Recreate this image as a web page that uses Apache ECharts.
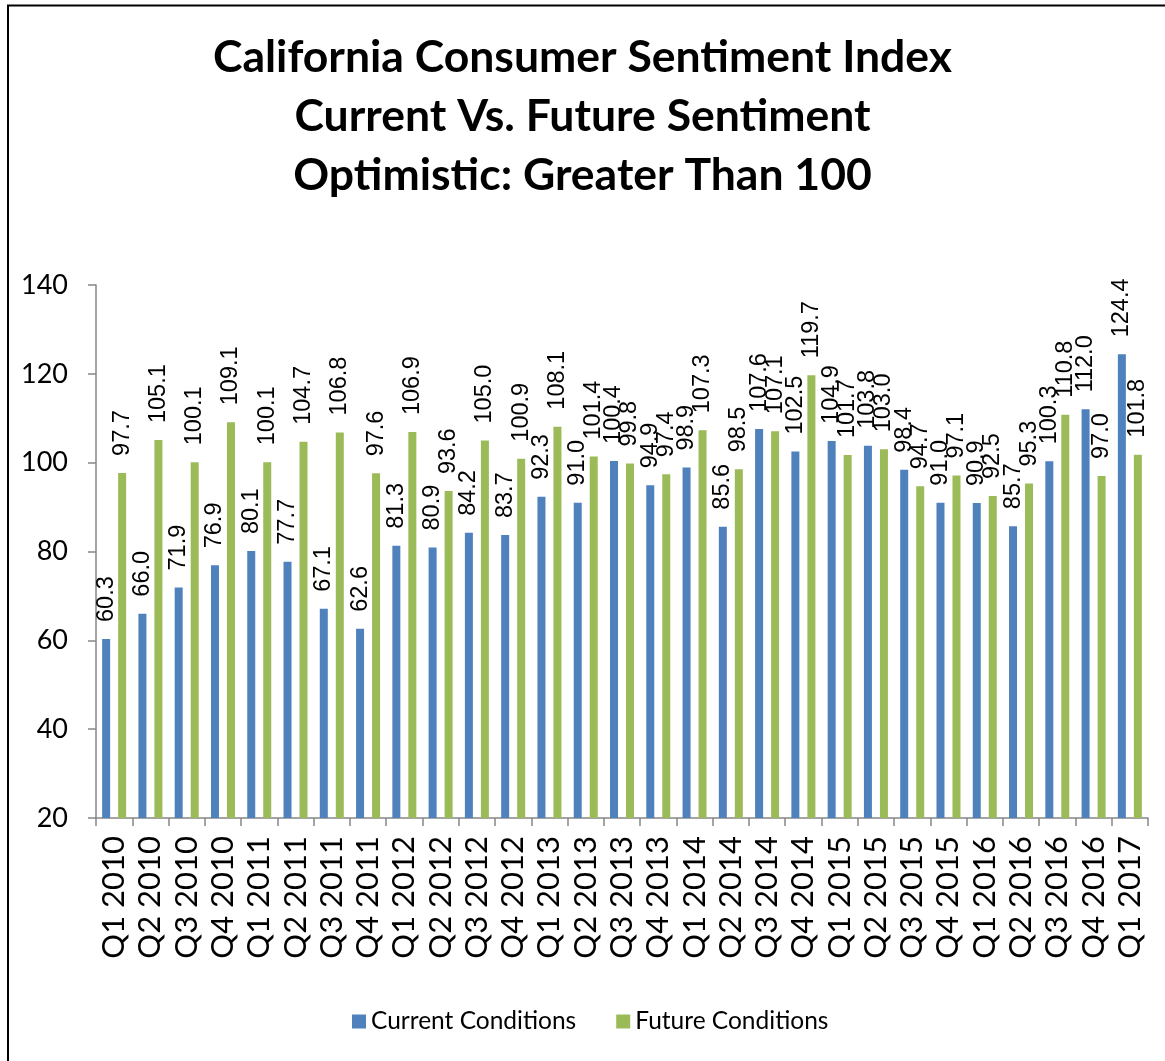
<!DOCTYPE html>
<html>
<head>
<meta charset="utf-8">
<script src="https://cdn.jsdelivr.net/npm/echarts@6/dist/echarts.min.js"></script>
<style>html,body{margin:0;padding:0;background:#fff}#c{width:1165px;height:1061px}</style>
</head>
<body>
<div id="c"></div>
<script>
const categories = ["Q1 2010","Q2 2010","Q3 2010","Q4 2010","Q1 2011","Q2 2011","Q3 2011","Q4 2011","Q1 2012","Q2 2012","Q3 2012","Q4 2012","Q1 2013","Q2 2013","Q3 2013","Q4 2013","Q1 2014","Q2 2014","Q3 2014","Q4 2014","Q1 2015","Q2 2015","Q3 2015","Q4 2015","Q1 2016","Q2 2016","Q3 2016","Q4 2016","Q1 2017"];
const currentConditions = [60.3,66.0,71.9,76.9,80.1,77.7,67.1,62.6,81.3,80.9,84.2,83.7,92.3,91.0,100.4,94.9,98.9,85.6,107.6,102.5,104.9,103.8,98.4,91.0,90.9,85.7,100.3,112.0,124.4];
const futureConditions = [97.7,105.1,100.1,109.1,100.1,104.7,106.8,97.6,106.9,93.6,105.0,100.9,108.1,101.4,99.8,97.4,107.3,98.5,107.1,119.7,101.7,103.0,94.7,97.1,92.5,95.3,110.8,97.0,101.8];
const yTicks = [20,40,60,80,100,120,140];
const titleText = "California Consumer Sentiment Index\nCurrent Vs. Future Sentiment\nOptimistic: Greater Than 100";

const chart = echarts.init(document.getElementById('c'));
const lbl = {
  show: true, position: 'top', rotate: 90, align: 'left', verticalAlign: 'middle',
  distance: 17, fontFamily: 'Liberation Sans', fontSize: 23.5, color: '#000',
  formatter: p => p.value.toFixed(1)
};
chart.setOption({
  animation: false,
  backgroundColor: '#fff',
  title: {
    text: titleText, left: 'center', top: 23,
    textStyle: { fontFamily: 'Lato', fontWeight: 'bold', fontSize: 44.5, lineHeight: 59, color: '#000' }
  },
  graphic: [{
    type: 'rect', shape: { x: 8, y: 5.5, width: 1300, height: 1200 },
    style: { fill: 'none', stroke: '#000', lineWidth: 2 }, silent: true
  }],
  legend: {
    bottom: 22, left: 347, itemWidth: 14, itemHeight: 14, itemGap: 40,
    icon: 'rect',
    textStyle: { fontFamily: 'Lato', fontSize: 24.5, color: '#000' },
    data: ['Current Conditions', 'Future Conditions']
  },
  grid: { left: 96, right: 17, top: 285, bottom: 243, containLabel: false },
  xAxis: {
    type: 'category', data: categories,
    axisLine: { lineStyle: { color: '#868686', width: 1.5 } },
    axisTick: { show: true, interval: 0, length: 8, lineStyle: { color: '#868686', width: 1.5 } },
    axisLabel: { interval: 0, rotate: 90, margin: 18, fontFamily: 'Lato', fontSize: 31, color: '#000' }
  },
  yAxis: {
    type: 'value', min: 20, max: 140, interval: 20,
    splitLine: { show: false },
    axisLine: { show: true, lineStyle: { color: '#868686', width: 1.5 } },
    axisTick: { show: true, length: 8, lineStyle: { color: '#868686', width: 1.5 } },
    axisLabel: { margin: 28, fontFamily: 'Lato', fontSize: 27, color: '#000',
      formatter: v => yTicks.includes(v) ? String(v) : '' }
  },
  series: [
    { name: 'Current Conditions', type: 'bar', data: currentConditions, barWidth: 8, barGap: '100%',
      itemStyle: { color: '#4F81BD' }, label: lbl },
    { name: 'Future Conditions', type: 'bar', data: futureConditions, barWidth: 8, barGap: '100%',
      itemStyle: { color: '#9BBB59' }, label: lbl }
  ]
});
</script>
</body>
</html>
